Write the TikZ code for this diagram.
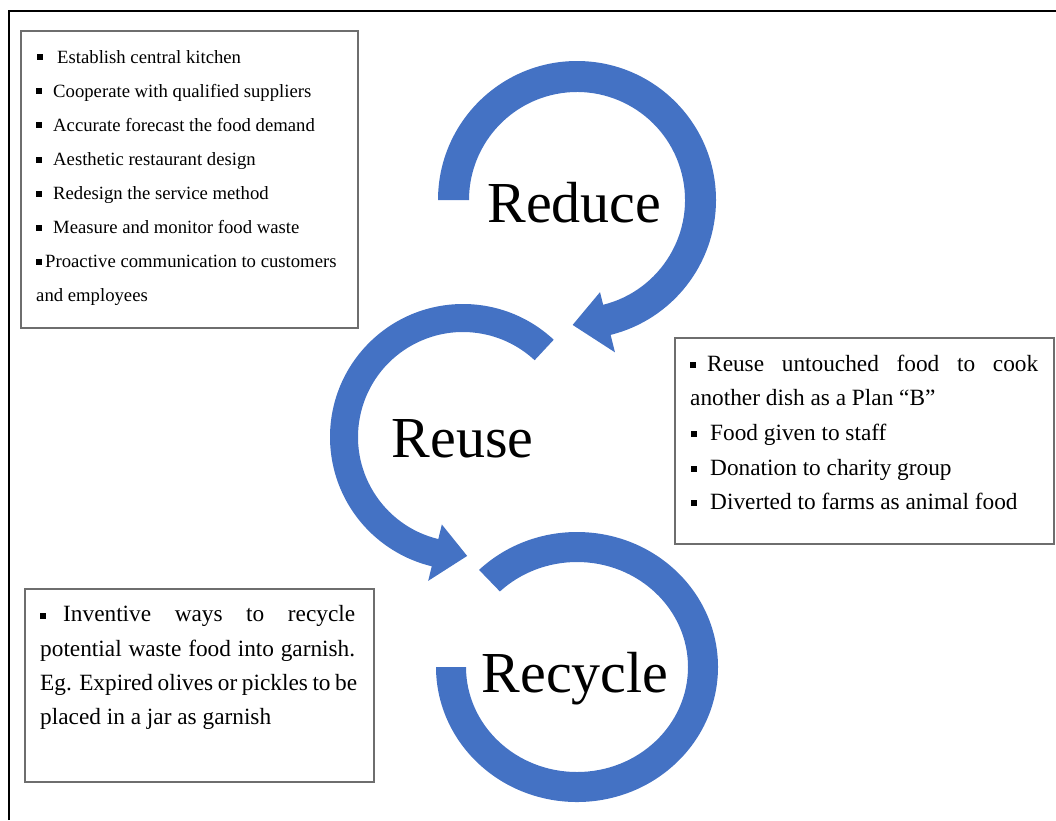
\documentclass[tikz,border=0pt]{standalone}
\usepackage{fontspec}
\setmainfont{Liberation Serif}
\definecolor{ringblue}{RGB}{68,114,196}
\definecolor{boxgray}{RGB}{110,110,110}
\newcommand\sqb{\raisebox{3pt}{\rule{6pt}{6pt}}}
\begin{document}
\begin{tikzpicture}[x=1pt,y=-1pt,
  ring/.style={fill=ringblue},
  listbox/.style={draw=boxgray, line width=1.5pt, inner sep=0pt, anchor=north west},
  big/.style={anchor=base, inner sep=0pt, font=\fontsize{58}{60}\selectfont},
  tl/.style={anchor=base west, inner sep=0pt, font=\fontsize{18.7}{22}\selectfont},
  rt/.style={anchor=base west, inner sep=0pt, font=\fontsize{23.3}{26}\selectfont}]
\useasboundingbox (0,0) rectangle (1056,820);
% outer frame (only top and left edges visible)
\coordinate (fbl) at (9,820);
\coordinate (ftl) at (9,11);
\coordinate (ftr) at (1056,11);
\draw[line width=2pt] (fbl) -- (ftl) -- (ftr);

% ring centres
\coordinate (cRed) at (577,200);
\coordinate (cReu) at (463,437);
\coordinate (cRec) at (577,667);

% Reduce ring with arrowhead
\fill[ring, shift={(577,200)}] (-180:139) arc[start angle=-180,end angle=76,radius=139]
  -- (76:157) -- (92:125) -- (76:95) -- (76:108)
  arc[start angle=76,end angle=-180,radius=108] -- cycle;
% Reuse ring with arrowhead
\fill[ring, shift={(463,437)}] (-47:133) arc[start angle=-47,end angle=-256.4,radius=133]
  -- (-256.4:148) -- (-272:119) -- (-256.4:90) -- (-256.4:105)
  arc[start angle=-256.4,end angle=-47,radius=105] -- cycle;
% Recycle ring
\fill[ring, shift={(577,667)}] (-134:141 and 135) arc[start angle=-134,end angle=180,x radius=141,y radius=135]
  -- (180:111 and 105) arc[start angle=180,end angle=-134,x radius=111,y radius=105] -- cycle;

% big labels
\node[big] (reduce) at (574.5,222) {Reduce};
\node[big] (reuse) at (462.5,457) {Reuse};
\node[big] (recycle) at (575,692) {Recycle};

% boxes
\node[listbox, minimum width=337pt, minimum height=297pt] (boxA) at (20,30) {};
\node[listbox, minimum width=379pt, minimum height=206pt] (boxB) at (674,337) {};
\node[listbox, minimum width=349pt, minimum height=193pt] (boxC) at (24,588) {};

% Reduce list
\node[tl] (a1) at (37,63.3) {\sqb\hspace{14pt}Establish central kitchen};
\node[tl] (a2) at (36,97) {\sqb\hspace{11pt}Cooperate with qualified suppliers};
\node[tl] (a3) at (36,131) {\sqb\hspace{11pt}Accurate forecast the food demand};
\node[tl] (a4) at (36,165.5) {\sqb\hspace{11pt}Aesthetic restaurant design};
\node[tl] (a5) at (36,199.5) {\sqb\hspace{11pt}Redesign the service method};
\node[tl] (a6) at (36,233.5) {\sqb\hspace{11pt}Measure and monitor food waste};
\node[tl] (a7) at (36,267.5) {\sqb\hspace{3pt}Proactive communication to customers};
\node[tl] (a8) at (36,301.7) {and employees};

% Reuse list
\node[rt] (b1) at (690,371) {\sqb\hspace{11pt}\makebox[331pt][s]{Reuse untouched food to cook}};
\node[rt] (b2) at (690,405) {another dish as a Plan “B”};
\node[rt] (b3) at (691,440) {\sqb\hspace{13pt}Food given to staff};
\node[rt] (b4) at (691,475) {\sqb\hspace{13pt}Donation to charity group};
\node[rt] (b5) at (691,509) {\sqb\hspace{13pt}Diverted to farms as animal food};

% Recycle list
\node[rt] (c1) at (40,621.7) {\sqb\hspace{17pt}\makebox[292pt][s]{Inventive ways to recycle}};
\node[rt] (c2) at (40,656) {\makebox[315pt][s]{potential waste food into garnish.}};
\node[rt] (c3) at (40,690) {\makebox[317pt][s]{Eg. Expired olives or pickles to be}};
\node[rt] (c4) at (40,724) {placed in a jar as garnish};
\end{tikzpicture}
\end{document}
